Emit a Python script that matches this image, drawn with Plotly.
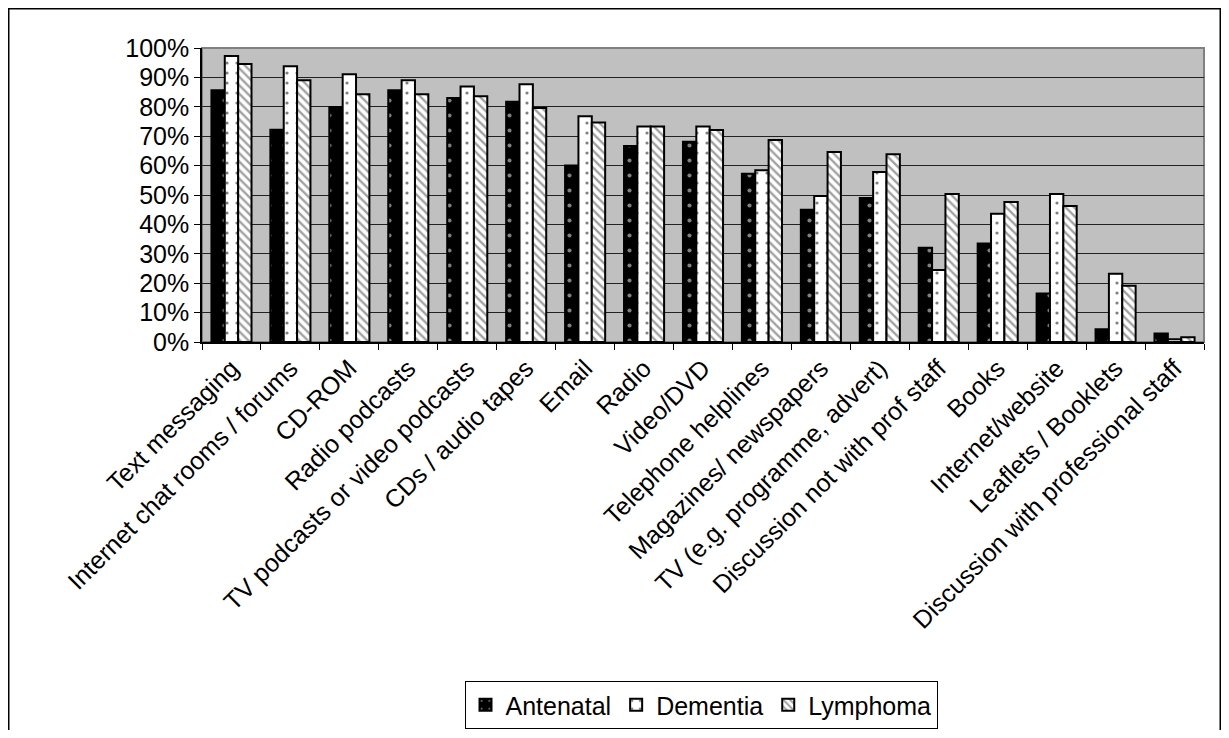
import plotly.graph_objects as go

categories = [
    "Text messaging", "Internet chat rooms / forums", "CD-ROM", "Radio podcasts",
    "TV podcasts or video podcasts", "CDs / audio tapes", "Email", "Radio",
    "Video/DVD", "Telephone helplines", "Magazines/ newspapers",
    "TV (e.g. programme, advert)", "Discussion not with prof staff", "Books",
    "Internet/website", "Leaflets / Booklets", "Discussion with professional staff",
]
antenatal = [85.6, 72.2, 79.9, 85.6, 83.0, 81.7, 60.0, 66.7, 68.1, 57.2, 45.0, 49.0, 32.1, 33.5, 16.5, 4.3, 2.9]
dementia = [97.3, 93.8, 91.1, 89.0, 86.9, 87.7, 76.8, 73.3, 73.3, 58.4, 49.7, 57.8, 24.5, 43.6, 50.3, 23.2, 0.9]
lymphoma = [94.6, 89.0, 84.3, 84.3, 83.6, 79.6, 74.7, 73.3, 72.1, 68.7, 64.6, 63.9, 50.3, 47.6, 46.3, 19.1, 1.6]
y_ticks = [0, 10, 20, 30, 40, 50, 60, 70, 80, 90, 100]
y_tick_labels = [f"{v}%" for v in y_ticks]

FONT = "Liberation Sans, Arial, sans-serif"
OFF = 8  # default page body margin
W, H = 1229 - 2 * OFF, 738 - 2 * OFF
L, R, T, B = 202 - OFF, 1204 - OFF, 48 - OFF, 342 - OFF

fig = go.Figure()
fig.add_trace(go.Bar(
    name="Antenatal", x=categories, y=antenatal,
    marker=dict(color="black", line=dict(color="black", width=2),
                pattern=dict(shape=".", fgcolor="white", bgcolor="black", size=15, solidity=0.06)),
))
fig.add_trace(go.Bar(
    name="Dementia", x=categories, y=dementia,
    marker=dict(color="white", line=dict(color="black", width=2),
                pattern=dict(shape=".", fgcolor="black", bgcolor="white", size=10, solidity=0.08)),
))
fig.add_trace(go.Bar(
    name="Lymphoma", x=categories, y=lymphoma,
    marker=dict(color="white", line=dict(color="black", width=2),
                pattern=dict(shape="\\", fgcolor="#444444", bgcolor="white", size=6, solidity=0.4)),
))

pw, ph = R - L, B - T
fig.add_shape(type="rect", xref="paper", yref="paper", x0=0, x1=1, y0=0, y1=1,
              line=dict(color="#808080", width=2), layer="below")
# outer chart border (bottom edge lies below the visible page)
bx0, bx1 = (0.75 - L) / pw, (W - 0.75 - L) / pw
by0, by1 = (B - 0.75) / ph, (B - H - 5) / ph
fig.add_shape(type="path", xref="paper", yref="paper",
              path=f"M {bx0} {by1} L {bx0} {by0} L {bx1} {by0} L {bx1} {by1}",
              line=dict(color="black", width=1.5))

fig.update_layout(
    width=W, height=H,
    margin=dict(l=L, r=W - R, t=T, b=H - B, autoexpand=False),
    paper_bgcolor="white", plot_bgcolor="#C0C0C0",
    barmode="group", bargap=0.32, bargroupgap=0,
    font=dict(family=FONT, size=25, color="black"),
    showlegend=True,
    legend=dict(orientation="h", xref="container", yref="container",
                x=(701 - OFF) / W, xanchor="center", y=1.0 / H, yanchor="bottom",
                bordercolor="black", borderwidth=1, bgcolor="white",
                font=dict(family=FONT, size=25), itemwidth=30, tracegroupgap=0),
    xaxis=dict(tickangle=-45, ticks="outside", tickson="boundaries", ticklen=6,
               tickcolor="black", showline=True, linecolor="black", linewidth=1.5,
               showgrid=False, automargin=False, tickfont=dict(family=FONT, size=25)),
    yaxis=dict(range=[0, 100], tickvals=y_ticks, ticktext=y_tick_labels, ticks="outside",
               ticklen=6, tickcolor="black", showline=True, linecolor="black", linewidth=1.5,
               showgrid=True, gridcolor="#222222", gridwidth=1, zeroline=False,
               automargin=False, tickfont=dict(family=FONT, size=25)),
)

fig.write_html("out.html")
